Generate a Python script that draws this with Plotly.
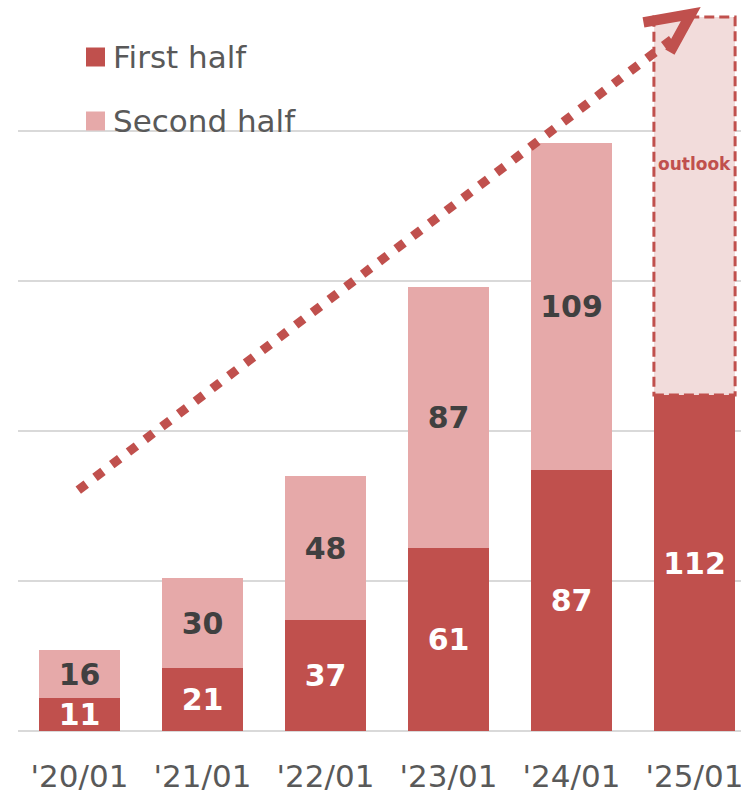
import plotly.graph_objects as go

# ---- data ----
years = ["'20/01", "'21/01", "'22/01", "'23/01", "'24/01", "'25/01"]
first_half = [11, 21, 37, 61, 87, 112]
second_half = [16, 30, 48, 87, 109]          # actual second halves ('20-'24)
outlook_years = ["'25/01"]
outlook_second = [126]                        # '25/01 second-half outlook (unlabelled)
legend_labels = ["First half", "Second half"]

RED = "#C0504D"
PINK = "#E6A9A9"
OUTLOOK_FILL = "#F2DCDB"
DARK = "#404040"
GREY_TXT = "#595959"
GRID = "#D9D9D9"
FONT = "DejaVu Sans"
BAR_W = 0.66

fig = go.Figure()
fig.add_bar(
    x=years, y=first_half, width=BAR_W, marker=dict(color=RED, line_width=0),
    text=first_half, textposition="inside", insidetextanchor="middle", textangle=0,
    textfont=dict(family=FONT, size=30, color="white", weight="bold"),
    showlegend=False, hoverinfo="skip",
)
fig.add_bar(
    x=years[:len(second_half)], y=second_half, width=BAR_W,
    marker=dict(color=PINK, line_width=0),
    text=second_half, textposition="inside", insidetextanchor="middle", textangle=0,
    textfont=dict(family=FONT, size=30, color=DARK, weight="bold"),
    showlegend=False, hoverinfo="skip",
)
fig.add_bar(
    x=outlook_years, y=outlook_second, width=BAR_W,
    marker=dict(color=OUTLOOK_FILL, line_width=0),
    showlegend=False, hoverinfo="skip",
)

# dashed outline of outlook bar (from data)
oi = years.index(outlook_years[0])
o_base = first_half[oi]
o_top = o_base + outlook_second[0]
fig.add_shape(type="rect", xref="x", yref="y",
              x0=oi - BAR_W / 2, x1=oi + BAR_W / 2, y0=o_base, y1=o_top,
              line=dict(color=RED, width=3, dash="10px,5px"), layer="above")
fig.add_annotation(x=oi, y=o_base + outlook_second[0] * 0.61, xref="x", yref="y",
                   text="<b>outlook</b>", showarrow=False,
                   font=dict(family=FONT, size=17, color=RED))

# growth arrow (decoration)
tip = (4.97, 239.0)
fig.add_shape(type="line", xref="x", yref="y", x0=-0.01, y0=80.3, x1=4.88, y1=232.5,
              line=dict(color=RED, width=9, dash="10px,11px"), layer="above")
fig.add_shape(type="path", xref="x", yref="y",
              path=f"M 4.585 236.2 L {tip[0]} {tip[1]} L 4.80 226.3",
              line=dict(color=RED, width=10.5), layer="above")

# manual legend
PL, PW, PH = 18, 723, 731
def fx(p):
    return (p - PL) / PW
def fy(p):
    return 1 - p / PH

for i, (lab, col) in enumerate(zip(legend_labels, [RED, PINK])):
    yc = 57 + i * 64
    fig.add_shape(type="rect", xref="paper", yref="paper",
                  x0=fx(86), x1=fx(105), y0=fy(yc + 9.5), y1=fy(yc - 9.5),
                  line_width=0, fillcolor=col, layer="above")
    fig.add_annotation(x=fx(111), y=fy(yc), xref="paper", yref="paper",
                       xanchor="left", yanchor="middle", text=lab, showarrow=False,
                       font=dict(family=FONT, size=31, color=GREY_TXT))

fig.update_layout(
    width=741, height=791,
    margin=dict(l=18, r=0, t=0, b=60, autoexpand=False),
    barmode="stack", bargap=0.34,
    plot_bgcolor="white", paper_bgcolor="white",
    uniformtext=dict(minsize=30, mode="show"),
    showlegend=False,
)
fig.update_xaxes(type="category", range=[-0.5, 5.378], showgrid=False,
                 tickfont=dict(family=FONT, size=31, color=GREY_TXT),
                 ticks="", showline=False, fixedrange=True,
                 ticklabelstandoff=24, automargin=False)
fig.update_yaxes(range=[0, 243.67], dtick=50, showticklabels=False,
                 showgrid=True, gridcolor=GRID, gridwidth=2,
                 zeroline=True, zerolinecolor=GRID, zerolinewidth=2,
                 fixedrange=True, automargin=False)

fig.write_html("out.html", config={"displayModeBar": False})
